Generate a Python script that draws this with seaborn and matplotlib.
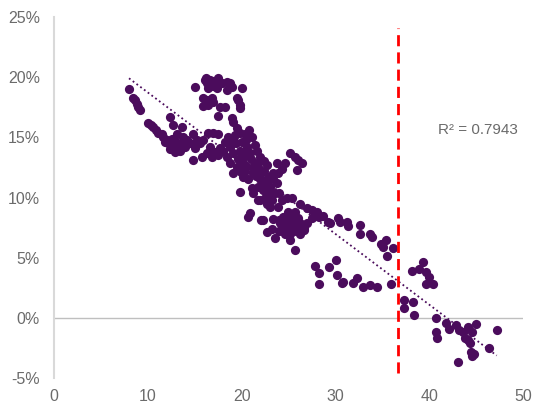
import numpy as np
import pandas as pd
import seaborn as sns
import matplotlib.pyplot as plt
from matplotlib.ticker import PercentFormatter


# values (x, y in %)
x_vals = [
    8.0, 8.4, 8.6, 8.8, 9.0, 9.2,
    10.0, 10.3, 10.6, 10.9, 11.1, 11.5, 11.6, 12.0, 12.2, 12.7, 12.9, 12.4, 12.7, 13.6,
    13.1, 13.8, 13.6, 14.2, 14.8, 14.5, 14.8, 15.8, 15.6, 15.9, 16.4, 17.0, 17.5, 16.6,
    17.2, 17.7, 17.5, 16.3, 16.8,
    11.8, 12.4, 13.2, 13.4, 12.6, 13.0, 14.0, 15.2, 15.0,
    15.0, 16.1, 16.3, 16.6, 17.0, 17.5, 17.9, 17.4, 16.4, 18.4, 18.8, 19.0, 18.4, 20.0,
    15.9, 16.3, 16.8, 17.0, 16.4, 15.9, 17.7, 17.5, 18.2, 19.5, 19.6, 19.8, 19.8, 19.0,
    19.1, 16.2, 17.1,
    19.5, 19.8, 20.4, 21.1, 19.1, 18.8, 19.1, 19.8, 20.6, 20.9, 20.2, 18.8, 19.5, 20.2,
    19.1, 19.8, 20.7, 21.2, 21.6, 22.0, 21.6, 21.2, 22.7, 22.0, 22.7, 22.3, 23.0, 23.3,
    23.8, 21.7, 22.7,
    18.0, 18.4, 20.2, 21.1, 21.2, 20.7, 21.7, 22.0, 22.8, 22.3, 23.0, 23.8, 23.6, 22.5,
    22.0, 23.2, 23.0, 23.9, 24.3, 24.8, 25.4, 26.2, 27.0, 27.5, 28.0, 28.7, 29.2,
    25.2, 25.7, 26.0, 26.4, 24.6, 24.3, 23.9, 25.9,
    19.4, 20.0, 20.5, 19.6, 20.5, 21.0, 21.5, 22.4, 21.8, 20.4, 19.9, 18.5, 18.2, 20.8,
    19.3, 21.4, 22.4, 23.4, 22.9, 24.0,
    20.9, 20.7, 22.1, 22.7, 23.6, 24.1, 24.4, 25.2, 25.5, 25.9, 24.8, 24.3, 25.2, 26.2,
    26.7, 27.0, 25.2, 25.7, 24.6, 24.9, 25.7,
    22.3, 24.6, 26.2, 26.7, 27.5, 28.3, 29.4, 30.3, 30.5, 31.2, 31.3, 32.6, 32.6, 33.7,
    33.9, 35.4, 35.1, 34.9, 35.5, 36.1,
    24.0, 25.0, 25.4, 24.6, 24.0, 26.0, 25.8, 23.4, 23.2,
    27.8, 28.3, 28.3, 29.3, 30.1, 30.2, 30.7, 30.8, 31.9, 32.3, 32.9, 33.7, 34.4, 35.9,
    37.3, 37.3, 38.3, 38.4, 38.2, 38.9, 39.3, 39.7, 40.0, 39.7, 40.4, 40.7, 40.7, 40.8,
    41.8, 42.1, 42.9, 43.2, 43.6, 44.1, 45.0, 44.6, 43.8, 44.1, 44.4, 44.5, 44.8, 44.6,
    43.1, 46.4, 47.2,
]
y_vals = [
    19.0, 18.3, 18.1, 17.8, 17.5, 17.3,
    16.2, 16.0, 15.9, 15.6, 15.4, 15.3, 15.0, 14.8, 14.5, 14.2, 13.8, 16.7, 16.0, 15.9,
    15.3, 15.0, 14.5, 14.8, 15.3, 14.5, 13.1, 13.4, 14.5, 14.8, 15.4, 15.4, 15.3, 14.2,
    13.8, 14.1, 13.5, 13.7, 13.4,
    14.6, 14.0, 14.3, 13.9, 14.9, 14.6, 14.2, 14.8, 14.1,
    19.2, 19.8, 19.5, 19.8, 19.3, 19.9, 19.5, 19.1, 19.1, 19.6, 19.5, 19.2, 18.9, 19.1,
    18.3, 18.1, 18.3, 17.9, 17.7, 17.6, 17.5, 16.8, 17.5, 18.3, 18.1, 17.7, 17.4, 16.6,
    16.3, 19.9, 19.7,
    15.8, 15.4, 15.3, 15.0, 14.8, 14.2, 13.7, 13.9, 14.2, 13.7, 13.4, 12.9, 12.5, 12.9,
    12.0, 10.5, 11.5, 12.0, 12.9, 13.4, 13.9, 12.5, 12.7, 11.5, 11.2, 10.6, 10.4, 12.0,
    12.9, 9.8, 9.5,
    13.9, 13.4, 11.7, 10.8, 10.4, 13.7, 12.5, 12.0, 11.7, 11.2, 10.9, 11.2, 10.4, 10.0,
    9.8, 9.8, 9.2, 9.2, 9.8, 10.0, 10.0, 9.5, 9.1, 9.0, 8.8, 8.5, 8.0,
    13.7, 13.4, 13.1, 12.9, 12.9, 12.4, 12.0, 12.3,
    14.5, 14.6, 14.8, 13.2, 12.6, 13.2, 11.8, 12.2, 10.9, 12.2, 12.1, 15.0, 14.6, 15.6,
    15.2, 14.4, 13.0, 11.5, 10.1, 10.4,
    8.7, 8.4, 8.1, 7.1, 6.6, 7.9, 8.4, 8.4, 8.0, 7.6, 7.6, 7.5, 7.0, 7.0,
    7.5, 7.9, 6.5, 5.6, 8.0, 8.8, 8.8,
    8.1, 7.5, 7.9, 7.3, 8.3, 8.4, 7.9, 8.3, 8.0, 8.0, 7.6, 7.7, 7.0, 7.0,
    6.7, 6.5, 5.9, 6.1, 5.1, 5.8,
    8.1, 8.2, 7.4, 7.0, 7.2, 8.3, 7.2, 8.2, 7.4,
    4.3, 3.7, 2.8, 4.2, 4.8, 3.6, 2.9, 3.0, 2.9, 3.3, 2.6, 2.7, 2.6, 2.8,
    1.5, 0.8, 1.3, 0.2, 3.9, 4.1, 4.6, 3.8, 3.4, 2.8, 2.8, 0.0, -1.2, -1.7,
    -0.4, -0.9, -0.6, -1.0, -1.2, -0.8, -0.5, -1.2, -1.7, -1.8, -2.1, -2.8, -3.0, -3.2,
    -3.7, -2.5, -1.0,
]

cutoff_x = 36.7
cutoff_span = [-4.6, 24.1]
r2_label = "R² = 0.7943"
x_ticks = [0, 10, 20, 30, 40, 50]
y_ticks = [-5, 0, 5, 10, 15, 20, 25]

df = pd.DataFrame({"x": x_vals, "y": y_vals})

purple = "#4B0C5C"
grey_text = "#6b6b6b"

sns.set_style("white")
plt.rcParams["font.family"] = ["Liberation Sans", "DejaVu Sans"]
plt.rcParams["axes.unicode_minus"] = False

fig = plt.figure(figsize=(5.43, 4.16), dpi=100)
ax = fig.add_axes([0.0994, 0.0913, 0.8637, 0.8678])

sns.scatterplot(data=df, x="x", y="y", color=purple, s=44, linewidth=0,
                ax=ax, zorder=3)
sns.regplot(data=df, x="x", y="y", scatter=False, ci=None, truncate=True,
            color=purple, ax=ax,
            line_kws={"linestyle": (0, (1, 1.6)), "linewidth": 1.3, "zorder": 4})

ax.axhline(0, color="#bfbfbf", lw=1, zorder=1)
ax.vlines(cutoff_x, cutoff_span[0], cutoff_span[1], colors="#ff0000",
          linestyles=(0, (4, 2.2)), lw=2, zorder=5)
ax.text(40.9, 15.6, r2_label, color=grey_text, fontsize=11, va="center")

ax.set_xlim(0, 50)
ax.set_ylim(-5, 25)
ax.set_xticks(x_ticks)
ax.set_yticks(y_ticks)
ax.yaxis.set_major_formatter(PercentFormatter(xmax=100, decimals=0))
ax.tick_params(axis="both", length=0, labelsize=11.5, labelcolor=grey_text)
ax.tick_params(axis="x", pad=8)
ax.tick_params(axis="y", pad=10)
ax.set_xlabel("")
ax.set_ylabel("")

for side in ["top", "right", "bottom"]:
    ax.spines[side].set_visible(False)
ax.spines["left"].set_color("#d9d9d9")
ax.spines["left"].set_linewidth(1.5)

plt.savefig("out.png", dpi=100)
